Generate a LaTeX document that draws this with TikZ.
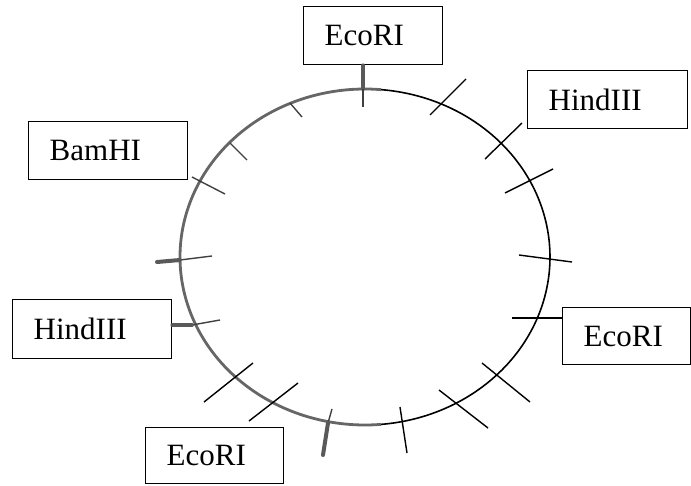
\documentclass[tikz,border=0pt]{standalone}
\usepackage{fontspec}
\setmainfont{Liberation Serif}
\begin{document}
\begin{tikzpicture}[x=1pt,y=-1pt,
  box/.style={draw, line width=1.4pt, rectangle, anchor=north west, inner xsep=21pt, inner ysep=0pt,
    align=left, minimum height=58pt, font=\fontsize{31}{36}\selectfont},
  cut/.style={line width=1.4pt, black},
  gcut/.style={line width=1.4pt, black!75},
  stub/.style={line width=4pt, black!65, line cap=round},
  ring/.style={line width=1.6pt, black},
  gring/.style={line width=2.8pt, black!60}]
\useasboundingbox (0,0) rectangle (691,485);

% boxes
\node[box, text width=97pt, minimum height=58pt] (ecoTop) at (303,6) {EcoRI};
\node[box, text width=118pt, minimum height=58pt] (hindR) at (527,70) {HindIII};
\node[box, text width=86pt, minimum height=57pt] (ecoR) at (562,307) {EcoRI};
\node[box, text width=117pt, minimum height=58pt] (bam) at (28,121) {BamHI};
\node[box, text width=117pt, minimum height=59pt] (hindL) at (12,299) {HindIII};
\node[box, text width=96pt, minimum height=56pt] (ecoB) at (145,427) {EcoRI};

% plasmid ring
\draw[gring] plot[domain=85:275, samples=120, smooth] ({365+185*cos(\x)},{257+168*sin(\x)});
\draw[ring] plot[domain=-85:85, samples=120, smooth] ({365+185*cos(\x)},{257+168*sin(\x)});

% cut-site coordinates
\coordinate (a1) at (430,115); \coordinate (a2) at (466,79);
\coordinate (b1) at (485,159); \coordinate (b2) at (522,123);
\coordinate (c1) at (505,193); \coordinate (c2) at (553,169);
\coordinate (d1) at (519,255); \coordinate (d2) at (572,262);
\coordinate (e1) at (512,318);
\coordinate (f1) at (482,363); \coordinate (f2) at (530,402);
\coordinate (g1) at (439,390); \coordinate (g2) at (488,428);
\coordinate (h1) at (400,407); \coordinate (h2) at (407,453);
\coordinate (i1) at (332,409); \coordinate (i2) at (323,455); \coordinate (i3) at (328,423);
\coordinate (j1) at (249,421); \coordinate (j2) at (298,383);
\coordinate (k1) at (204,402); \coordinate (k2) at (253,363);
\coordinate (l2) at (220,320); \coordinate (l3) at (192,325);
\coordinate (m1) at (157,262); \coordinate (m2) at (212,256); \coordinate (m3) at (180,260);
\coordinate (n1) at (192,177); \coordinate (n2) at (225,194);
\coordinate (o1) at (230,143); \coordinate (o2) at (247,160);
\coordinate (p1) at (290,103); \coordinate (p2) at (302,117);
\coordinate (q1) at (363,89); \coordinate (q2) at (363,107);

% right side (black) cuts
\draw[cut] (a1) -- (a2);
\draw[cut] (b1) -- (b2);
\draw[cut] (c1) -- (c2);
\draw[cut] (d1) -- (d2);
\draw[cut] (e1) -- (e1 -| ecoR.west);
\draw[cut] (f1) -- (f2);
\draw[cut] (g1) -- (g2);
\draw[cut] (h1) -- (h2);
\draw[cut] (j1) -- (j2);
\draw[cut] (k1) -- (k2);

% left side (grey) cuts
\draw[gcut] (i1) -- (i3);
\draw[stub] (i3) -- (i2);
\draw[gcut] (l3) -- (l2);
\draw[stub] (hindL.east |- l3) -- (l3);
\draw[gcut] (m3) -- (m2);
\draw[stub] (m1) -- (m3);
\draw[gcut] (n1) -- (n2);
\draw[gcut] (o1) -- (o2);
\draw[gcut] (p1) -- (p2);
\draw[stub] (q1 |- ecoTop.south) -- (q1);
\draw[gcut] (q1) -- (q2);
\end{tikzpicture}
\end{document}
